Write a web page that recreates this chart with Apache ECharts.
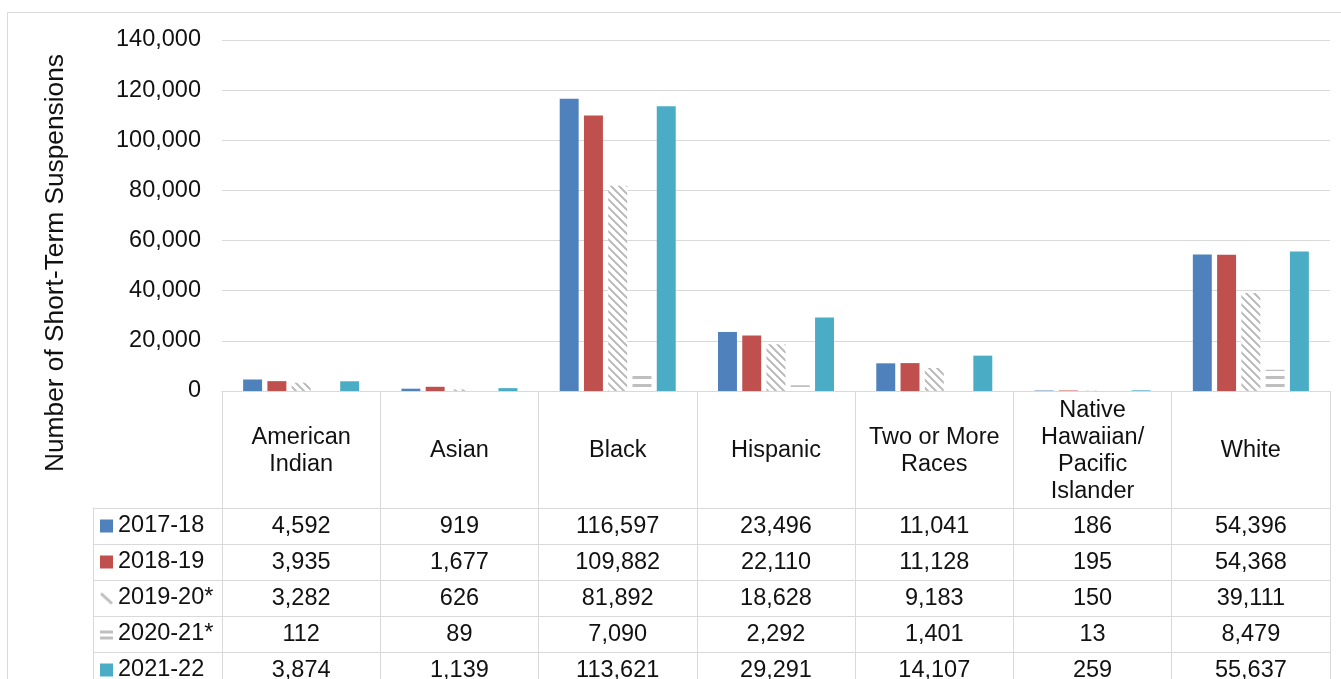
<!DOCTYPE html>
<html>
<head>
<meta charset="utf-8">
<script src="https://cdn.jsdelivr.net/npm/echarts@6/dist/echarts.min.js"></script>
<style>
html,body{margin:0;padding:0;background:#fff;overflow:hidden;}
#chart{width:1341px;height:700px;}
</style>
</head>
<body>
<div id="chart"></div>
<script>
// ---- data ----
const categories = ['American\nIndian', 'Asian', 'Black', 'Hispanic', 'Two or More\nRaces', 'Native\nHawaiian/\nPacific\nIslander', 'White'];
const seriesNames = ['2017-18', '2018-19', '2019-20*', '2020-21*', '2021-22'];
const v2017 = [4592, 919, 116597, 23496, 11041, 186, 54396];
const v2018 = [3935, 1677, 109882, 22110, 11128, 195, 54368];
const v2019 = [3282, 626, 81892, 18628, 9183, 150, 39111];
const v2020 = [112, 89, 7090, 2292, 1401, 13, 8479];
const v2021 = [3874, 1139, 113621, 29291, 14107, 259, 55637];
const yMin = 0, yMax = 140000, yStep = 20000;
const allValues = [v2017, v2018, v2019, v2020, v2021];

// ---- styles ----
const FONT = 'Liberation Sans, Arial, sans-serif';
const FS = 23.5;
const TXT = '#111';
const LINE = '#d9d9d9';
const GRAY = '#bfbfbf';

function makeCanvas(w, h, draw) {
  const c = document.createElement('canvas');
  c.width = w; c.height = h;
  draw(c.getContext('2d'), w, h);
  return c;
}
const diagTile = makeCanvas(8, 8, (ctx, w, h) => {
  ctx.fillStyle = '#fff'; ctx.fillRect(0, 0, w, h);
  ctx.fillStyle = GRAY;
  for (let y = 0; y < h; y++) for (let x = 0; x < w; x++) {
    if ((((x - y) % 8) + 8) % 8 < 3) ctx.fillRect(x, y, 1, 1);
  }
});
const horizTile = makeCanvas(8, 8, (ctx, w, h) => {
  ctx.fillStyle = '#fff'; ctx.fillRect(0, 0, w, h);
  ctx.fillStyle = GRAY; ctx.fillRect(0, 0, w, 3);
});
const solidIcon = (col) => makeCanvas(13, 13, (ctx, w, h) => { ctx.fillStyle = col; ctx.fillRect(0, 0, w, h); });
const diagIcon = makeCanvas(13, 13, (ctx) => {
  ctx.strokeStyle = GRAY; ctx.lineWidth = 3;
  ctx.beginPath(); ctx.moveTo(1, 2); ctx.lineTo(12, 12); ctx.stroke();
});
const horizIcon = makeCanvas(13, 13, (ctx) => {
  ctx.fillStyle = GRAY; ctx.fillRect(0, 3, 13, 3); ctx.fillRect(0, 9, 13, 3);
});

const fills = [
  '#4F81BD',
  '#C0504D',
  { image: diagTile, repeat: 'repeat' },
  { image: horizTile, repeat: 'repeat' },
  '#4BACC6'
];
const icons = [solidIcon('#4F81BD'), solidIcon('#C0504D'), diagIcon, horizIcon, solidIcon('#4BACC6')];

const fmt = (v) => v.toLocaleString('en-US');

const barSeries = seriesNames.map((name, i) => ({
  name: name,
  type: 'bar',
  xAxisIndex: 0, yAxisIndex: 0,
  data: allValues[i],
  itemStyle: { color: fills[i] },
  barGap: '28%',
  barCategoryGap: '26.7%',
  silent: true
}));

const tableData = [];
allValues.forEach((arr, r) => arr.forEach((v, c) => tableData.push([c, r, v])));

const rich = { t: { fontFamily: FONT, fontSize: FS, color: TXT, padding: [0, 0, 0, 5] } };
icons.forEach((ic, i) => { rich['i' + i] = { width: 13, height: 13, backgroundColor: { image: ic } }; });

const chart = echarts.init(document.getElementById('chart'), null, { renderer: 'canvas' });
chart.setOption({
  animation: false,
  backgroundColor: '#fff',
  textStyle: { fontFamily: FONT },
  graphic: [
    { type: 'rect', shape: { x: 7.5, y: 12.5, width: 1400, height: 720 }, style: { fill: 'none', stroke: LINE, lineWidth: 1 }, silent: true, z: -10 },
    { type: 'text', x: 56, y: 263, rotation: Math.PI / 2,
      style: { text: 'Number of Short-Term Suspensions', fontFamily: FONT, fontSize: 26.3, fill: TXT, align: 'center', verticalAlign: 'middle' } }
  ],
  grid: [
    { left: 222, width: 1108, top: 40, height: 351 },
    { left: 222, width: 1108, top: 508, height: 180 }
  ],
  xAxis: [
    {
      type: 'category', gridIndex: 0, data: categories,
      axisLine: { show: true, lineStyle: { color: LINE, width: 1 } },
      axisTick: { show: true, length: 117, interval: 0, alignWithLabel: false, lineStyle: { color: LINE, width: 1 } },
      axisLabel: { interval: 0, margin: 60, verticalAlign: 'middle', fontFamily: FONT, fontSize: FS, lineHeight: 27.3, color: TXT, align: 'center' },
      splitLine: { show: false }
    },
    {
      type: 'category', gridIndex: 1, data: categories,
      axisLine: { show: false }, axisTick: { show: false }, axisLabel: { show: false },
      splitLine: { show: true, interval: 0, lineStyle: { color: LINE, width: 1 } }
    }
  ],
  yAxis: [
    {
      type: 'value', gridIndex: 0, min: yMin, max: yMax, interval: yStep,
      axisLine: { show: false }, axisTick: { show: false },
      axisLabel: { margin: 21, fontFamily: FONT, fontSize: FS, color: TXT, formatter: (v) => fmt(v) },
      splitLine: { show: true, lineStyle: { color: LINE, width: 1 } }
    },
    {
      type: 'category', gridIndex: 1, data: seriesNames, inverse: true, offset: 129,
      axisLine: { show: true, lineStyle: { color: LINE, width: 1 } },
      axisTick: { show: true, inside: true, length: 129, interval: 0, alignWithLabel: false, lineStyle: { color: LINE, width: 1 } },
      axisLabel: { inside: true, margin: 7, interval: 0, rich: rich,
        formatter: (v, idx) => '{i' + idx + '|}{t|' + v + '}' },
      splitLine: { show: true, interval: 0, lineStyle: { color: LINE, width: 1 } }
    }
  ],
  series: barSeries.concat([{
    type: 'custom',
    xAxisIndex: 1, yAxisIndex: 1,
    data: tableData,
    encode: { x: 0, y: 1 },
    silent: true,
    renderItem: function (params, api) {
      const p = api.coord([api.value(0), api.value(1)]);
      return {
        type: 'text', x: p[0], y: p[1] + 1,
        style: { text: fmt(api.value(2)), fontFamily: FONT, fontSize: FS, fill: TXT, align: 'center', verticalAlign: 'middle' }
      };
    }
  }])
});
</script>
</body>
</html>
